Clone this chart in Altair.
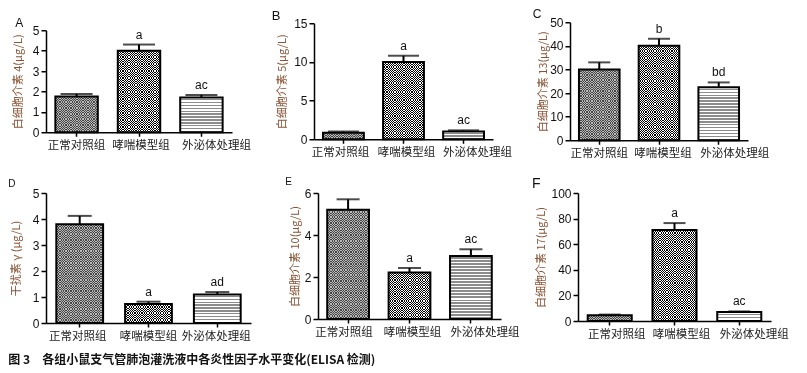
import altair as alt
import pandas as pd

# ---------------- data ----------------
groups = ["正常对照组", "哮喘模型组", "外泌体处理组"]

a_title = "白细胞介素 4(μg/L)"
a_mean = [1.75, 4.0, 1.7]
a_upper = [1.88, 4.3, 1.83]
a_letters = ["", "a", "ac"]
a_ticks = [0, 1, 2, 3, 4, 5]

b_title = "白细胞介素 5(μg/L)"
b_mean = [0.85, 10.0, 1.0]
b_upper = [1.0, 10.8, 1.15]
b_letters = ["", "a", "ac"]
b_ticks = [0, 5, 10, 15]

c_title = "白细胞介素 13(μg/L)"
c_mean = [30, 40, 22.5]
c_upper = [33, 43, 24.5]
c_letters = ["", "b", "bd"]
c_ticks = [0, 10, 20, 30, 40, 50]

d_title = "干扰素 γ (μg/L)"
d_mean = [3.8, 0.73, 1.1]
d_upper = [4.12, 0.82, 1.19]
d_letters = ["", "a", "ad"]
d_ticks = [0, 1, 2, 3, 4, 5]

e_title = "白细胞介素 10(μg/L)"
e_mean = [5.2, 2.22, 3.0]
e_upper = [5.7, 2.43, 3.32]
e_letters = ["", "a", "ac"]
e_ticks = [0, 2, 4, 6]

f_title = "白细胞介素 17(μg/L)"
f_mean = [4.5, 71, 7]
f_upper = [5, 76.5, 7.5]
f_letters = ["", "a", "ac"]
f_ticks = [0, 20, 40, 60, 80, 100]

caption = "图 3　各组小鼠支气管肺泡灌洗液中各炎性因子水平变化(ELISA 检测)"

# ---------------- style ----------------
CJK = "Noto Sans CJK SC"
LAT = "Liberation Sans"
TITLE_COLOR = "#8a5536"
PI, PO = 0.32, 0.15


def stripes(n, c1, c2, vertical=False):
    stops = []
    for i in range(n):
        a, m, b = i / n, (i + 0.5) / n, (i + 1) / n
        stops += [{"offset": a, "color": c1}, {"offset": m, "color": c1},
                  {"offset": m, "color": c2}, {"offset": b, "color": c2}]
    g = {"gradient": "linear", "stops": stops, "x1": 0, "y1": 0}
    if vertical:
        g.update({"x2": 1, "y2": 0})
    else:
        g.update({"x2": 0, "y2": 1})
    return g


def panel(label, ytitle, means, uppers, letters, ticks, W, H,
          tsize, toff, tdx, capw, tpad, loffs):
    ymax = ticks[-1]
    df = pd.DataFrame({"group": groups, "mean": means,
                       "upper": uppers, "letter": letters})
    label_offset = {
        "condition": [
            {"test": f"datum.value === '{groups[0]}'", "value": loffs[0]},
            {"test": f"datum.value === '{groups[1]}'", "value": loffs[1]},
        ],
        "value": loffs[2],
    }
    xenc = alt.X("group:N", sort=groups,
                 scale=alt.Scale(domain=groups, paddingInner=PI, paddingOuter=PO),
                 axis=alt.Axis(title=None, labelAngle=0, labelFont=CJK,
                               labelFontSize=11.5, labelColor="#222",
                               labelPadding=3, tickSize=4,
                               labelOffset=label_offset))
    ysc = alt.Scale(domain=[0, ymax], nice=False, zero=True)
    yax = alt.Axis(values=ticks, title=ytitle, titleFont=CJK, titleFontSize=11,
                   titleFontWeight="normal", titleColor=TITLE_COLOR,
                   titlePadding=tpad, labelFont=LAT, labelFontSize=12,
                   labelColor="#111", labelPadding=2, tickSize=5)
    ymean = alt.Y("mean:Q", scale=ysc, axis=yax)
    yup = alt.Y("upper:Q", scale=ysc, axis=yax)
    base = alt.Chart(df)
    step = W / (3 - PI + 2 * PO)
    bw = step * (1 - PI)
    layers = []
    for i, g in enumerate(groups):
        hpx = means[i] / ymax * H
        sel = base.transform_filter(alt.datum.group == g)
        if i < 2:
            cell = 1.7 if i == 0 else 2.3
            dark, light = ("#454545", "#b8b8b8") if i == 0 else ("#000000", "#ffffff")
            nr = max(1, round(hpx / cell))
            nc = max(1, round(bw / cell))
            layers.append(sel.mark_bar(fill=stripes(nr, dark, light))
                          .encode(x=xenc, y=ymean))
            layers.append(sel.mark_bar(
                fill=stripes(nc, "#ffffff", "rgba(255,255,255,0)", vertical=True),
                blend="difference").encode(x=xenc, y=ymean))
        else:
            nr = max(1, round(hpx / 3.0))
            layers.append(sel.mark_bar(fill=stripes(nr, "#ffffff", "#8c8c8c"))
                          .encode(x=xenc, y=ymean))
    outline = base.mark_bar(fillOpacity=0, stroke="black", strokeWidth=2).encode(
        x=xenc, y=ymean)
    whisker = base.mark_rule(color="black", strokeWidth=2).encode(
        x=xenc, y=ymean, y2="upper:Q")
    cap = base.mark_tick(color="black", thickness=2, size=capw).encode(x=xenc, y=yup)
    text = base.mark_text(baseline="bottom", dy=-3, fontSize=12, font=LAT,
                          color="#111").encode(x=xenc, y=yup, text="letter:N")
    return alt.layer(*layers, outline, whisker, cap, text).properties(
        width=W, height=H,
        title=alt.TitleParams(label, anchor="start", fontSize=tsize, offset=toff,
                              dx=tdx, font=LAT, fontWeight="normal", color="#111"))


pa = panel("A", a_title, a_mean, a_upper, a_letters, a_ticks, 186, 102,
           12, -6, 3, 32, 9, [0, 2, 15])
pb = panel("B", b_title, b_mean, b_upper, b_letters, b_ticks, 179, 116,
           13, -6, -5, 31, 6, [-3, 3, 14])
pc = panel("C", c_title, c_mean, c_upper, c_letters, c_ticks, 178, 118,
           12, -5, -5, 22, 1, [0, 4, 16])
pd_ = panel("D", d_title, d_mean, d_upper, d_letters, d_ticks, 205, 130,
            10, -2, -2, 24, 11, [-2, 0, -1])
pe = panel("E", e_title, e_mean, e_upper, e_letters, e_ticks, 183, 126,
           10, -4, -4, 23, 4, [-4, 3, 14])
pf = panel("F", f_title, f_mean, f_upper, f_letters, f_ticks, 193, 128,
           14, -4, -4, 22, 4, [7, 7, 15])

row1 = alt.hconcat(pa, pb, pc, spacing=20, center=True)
row2 = alt.hconcat(alt.hconcat(pd_, pe, spacing=34), pf, spacing=12)

chart = alt.vconcat(row1, row2, spacing=18).properties(
    title=alt.TitleParams(caption, orient="bottom", anchor="start", fontSize=12,
                          fontWeight="bold", font=CJK, color="#111", offset=13),
    padding={"left": 0, "top": 0, "right": 5, "bottom": 0},
).configure_view(stroke=None).configure_axis(
    grid=False, domainColor="black", domainWidth=1.5, tickColor="black",
    tickWidth=1.5)

chart.save("out.html", embed_options={"renderer": "svg", "actions": False})
